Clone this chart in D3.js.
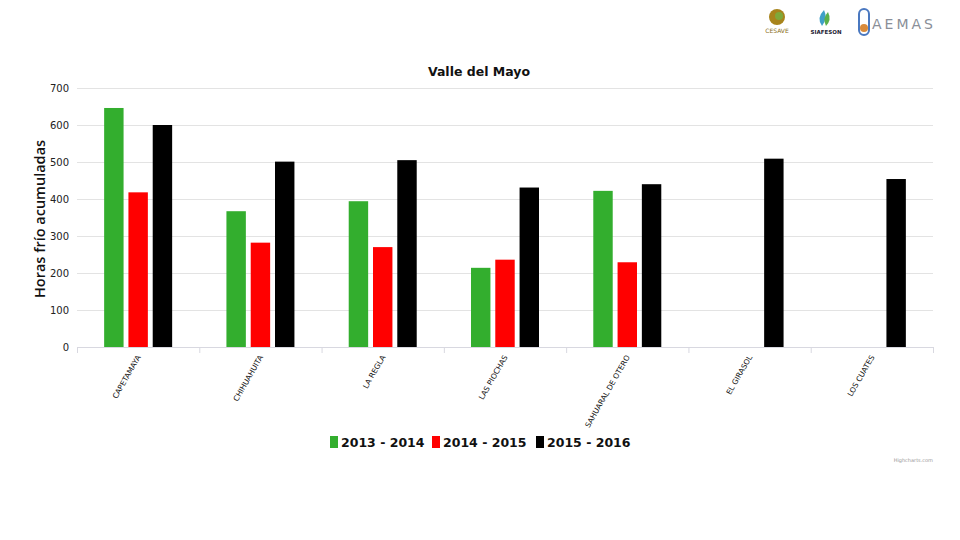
<!DOCTYPE html>
<html>
<head>
<meta charset="utf-8">
<script src="https://cdn.jsdelivr.net/npm/d3@7"></script>
<style>
  body { margin: 0; background: #fff; }
  svg { display: block; font-family: "DejaVu Sans", Verdana, sans-serif; }
</style>
</head>
<body>
<svg width="960" height="540"></svg>
<script>
let categories = ["CAPETAMAYA", "CHIHUAHUITA", "LA REGLA", "LAS PIOCHAS", "SAHUARAL DE OTERO", "EL GIRASOL", "LOS CUATES"];
let seriesNames = ["2013 - 2014", "2014 - 2015", "2015 - 2016"];
let season1 = [646, 367, 394, 214, 422, null, null];
let season2 = [418, 282, 270, 236, 229, null, null];
let season3 = [600, 501, 505, 431, 440, 509, 454];
let yTicks = [0, 100, 200, 300, 400, 500, 600, 700];
let colors = ["#33ae2e", "#ff0000", "#000000"];

let svg = d3.select("svg");
let plot = {left: 77, right: 933, top: 88, bottom: 347};

let x = d3.scaleBand()
    .domain(categories)
    .range([plot.left, plot.right]);

let groupW = 68;
let x1 = d3.scaleBand()
    .domain(seriesNames)
    .range([0, groupW])
    .paddingInner(0.2);

let y = d3.scaleLinear()
    .domain([0, 700])
    .range([plot.bottom, plot.top]);

let allSeries = [season1, season2, season3];

// grid lines
svg.append("g")
    .selectAll("line")
    .data(yTicks.slice(1))
    .enter().append("line")
    .attr("x1", plot.left)
    .attr("x2", plot.right)
    .attr("y1", d => y(d) + 0.5)
    .attr("y2", d => y(d) + 0.5)
    .attr("stroke", "#e3e3e3")
    .attr("stroke-width", 1);

// y tick labels
svg.append("g")
    .selectAll("text")
    .data(yTicks)
    .enter().append("text")
    .attr("x", 69)
    .attr("y", d => y(d) + 4)
    .attr("text-anchor", "end")
    .attr("font-size", 10)
    .attr("fill", "#222")
    .text(d => d);

// bars
allSeries.forEach(function (vals, i) {
    svg.append("g")
        .selectAll("rect")
        .data(categories.map((c, j) => ({cat: c, v: vals[j]})).filter(d => d.v != null))
        .enter().append("rect")
        .attr("x", d => x(d.cat) + (x.bandwidth() - groupW) / 2 + x1(seriesNames[i]))
        .attr("width", x1.bandwidth())
        .attr("y", d => y(d.v))
        .attr("height", d => y(0) - y(d.v))
        .attr("fill", colors[i]);
});

// x axis
let xAxis = svg.append("g");
xAxis.append("line")
    .attr("x1", plot.left)
    .attr("x2", plot.right)
    .attr("y1", plot.bottom + 0.5)
    .attr("y2", plot.bottom + 0.5)
    .attr("stroke", "#d8d8e0");
xAxis.selectAll(".tick")
    .data(categories.map(c => x(c)).concat([plot.right]))
    .enter().append("line")
    .attr("x1", d => d + 0.5)
    .attr("x2", d => d + 0.5)
    .attr("y1", plot.bottom)
    .attr("y2", plot.bottom + 6)
    .attr("stroke", "#d8d8e0");

xAxis.selectAll("text")
    .data(categories)
    .enter().append("text")
    .attr("transform", d => "translate(" + (x(d) + x.bandwidth() / 2 + 3) + "," + (plot.bottom + 10) + ") rotate(-60)")
    .attr("text-anchor", "end")
    .attr("font-size", 7.5)
    .attr("fill", "#111")
    .text(d => d);

// y title
svg.append("text")
    .attr("transform", "translate(45,219) rotate(-90)")
    .attr("text-anchor", "middle")
    .attr("font-family", "'Open Sans', sans-serif")
    .attr("font-size", 14.5)
    .attr("font-weight", 600)
    .attr("fill", "#111")
    .text("Horas frío acumuladas");

// chart title
svg.append("text")
    .attr("x", 479)
    .attr("y", 76)
    .attr("text-anchor", "middle")
    .attr("font-size", 12.5)
    .attr("font-weight", "bold")
    .attr("fill", "#111")
    .text("Valle del Mayo");

// legend
let legendX = [330, 432, 536];
let legend = svg.append("g")
    .selectAll("g")
    .data(seriesNames)
    .enter().append("g")
    .attr("transform", (d, i) => "translate(" + legendX[i] + ",436)");
legend.append("rect")
    .attr("width", 8)
    .attr("height", 12)
    .attr("fill", (d, i) => colors[i]);
legend.append("text")
    .attr("x", 11)
    .attr("y", 11)
    .attr("font-size", 12.5)
    .attr("font-weight", "bold")
    .attr("fill", "#111")
    .text(d => d);

// credit
svg.append("text")
    .attr("x", 933)
    .attr("y", 462)
    .attr("text-anchor", "end")
    .attr("font-size", 5)
    .attr("fill", "#999")
    .text("Highcharts.com");

// logos (rough placeholders)
let logos = svg.append("g");
logos.append("circle").attr("cx", 777).attr("cy", 17).attr("r", 8).attr("fill", "#a8841c");
logos.append("circle").attr("cx", 779).attr("cy", 16).attr("r", 4).attr("fill", "#7fa83a");
logos.append("text").attr("x", 777).attr("y", 33).attr("text-anchor", "middle")
    .attr("font-size", 6).attr("fill", "#8a6d1a").text("CESAVE");
logos.append("path").attr("d", "M822,26 q-6,-8 2,-16 q4,8 -2,16 z").attr("fill", "#3fa0c8");
logos.append("path").attr("d", "M826,26 q6,-6 2,-14 q-6,6 -2,14 z").attr("fill", "#5cb04a");
logos.append("text").attr("x", 826).attr("y", 34).attr("text-anchor", "middle")
    .attr("font-size", 5.5).attr("font-weight", "bold").attr("fill", "#223").text("SIAFESON");
logos.append("rect").attr("x", 859).attr("y", 9).attr("width", 10).attr("height", 26)
    .attr("rx", 5).attr("fill", "none").attr("stroke", "#4a78c0").attr("stroke-width", 2);
logos.append("circle").attr("cx", 864).attr("cy", 28).attr("r", 4).attr("fill", "#d98a3a");
logos.append("text").attr("x", 872).attr("y", 29).attr("font-size", 14)
    .attr("letter-spacing", 3).attr("fill", "#8a8f98").text("AEMAS");
</script>
</body>
</html>
